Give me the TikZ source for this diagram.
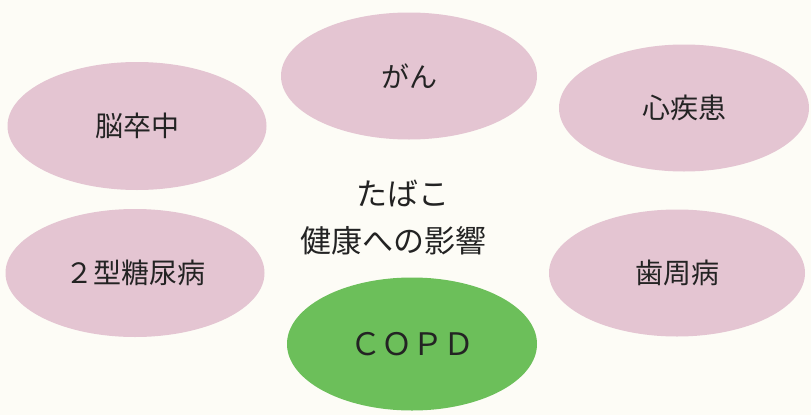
\documentclass[tikz,border=0pt]{standalone}
\usepackage{fontspec}
\newfontfamily\jpfont{Noto Sans CJK JP}
\usetikzlibrary{shapes.geometric}

\definecolor{bgcream}{RGB}{253,252,246}
\definecolor{pinkfill}{RGB}{228,197,210}
\definecolor{copdgreen}{RGB}{108,191,90}
\definecolor{inkgray}{RGB}{35,35,35}

\tikzset{
  disease/.style={ellipse, fill=pinkfill, minimum width=256pt, minimum height=127pt,
    inner sep=0pt, text=inkgray, font=\jpfont\fontsize{28}{30}\selectfont},
  maintext/.style={text=inkgray, inner sep=0pt, font=\jpfont\fontsize{31}{34}\selectfont}
}

\begin{document}
\begin{tikzpicture}[x=1pt, y=-1pt]
  \fill[bgcream] (0,0) rectangle (811,415);
  \useasboundingbox (0,0) rectangle (811,415);

  \node[disease] (gan) at (409,76) {がん};
  \node[disease, minimum width=259pt, minimum height=128pt] (nosotchu) at (137,126) {脳卒中};
  \node[disease, minimum width=250pt] (shinshikkan) at (684,108) {心疾患};
  \node[disease, minimum width=259pt, minimum height=128pt] (tonyobyo) at (135,273) {２型糖尿病};
  \node[disease] (shishubyo) at (677,273) {歯周病};
  \node[disease, fill=copdgreen, minimum width=250pt, minimum height=133pt,
    font=\jpfont\fontsize{31}{34}\selectfont] (copd) at (412,344) {ＣＯＰＤ};

  \node[maintext] (tabako) at (403,193) {たばこ};
  \node[maintext] (eikyo) at (393,241) {健康への影響};
\end{tikzpicture}
\end{document}
